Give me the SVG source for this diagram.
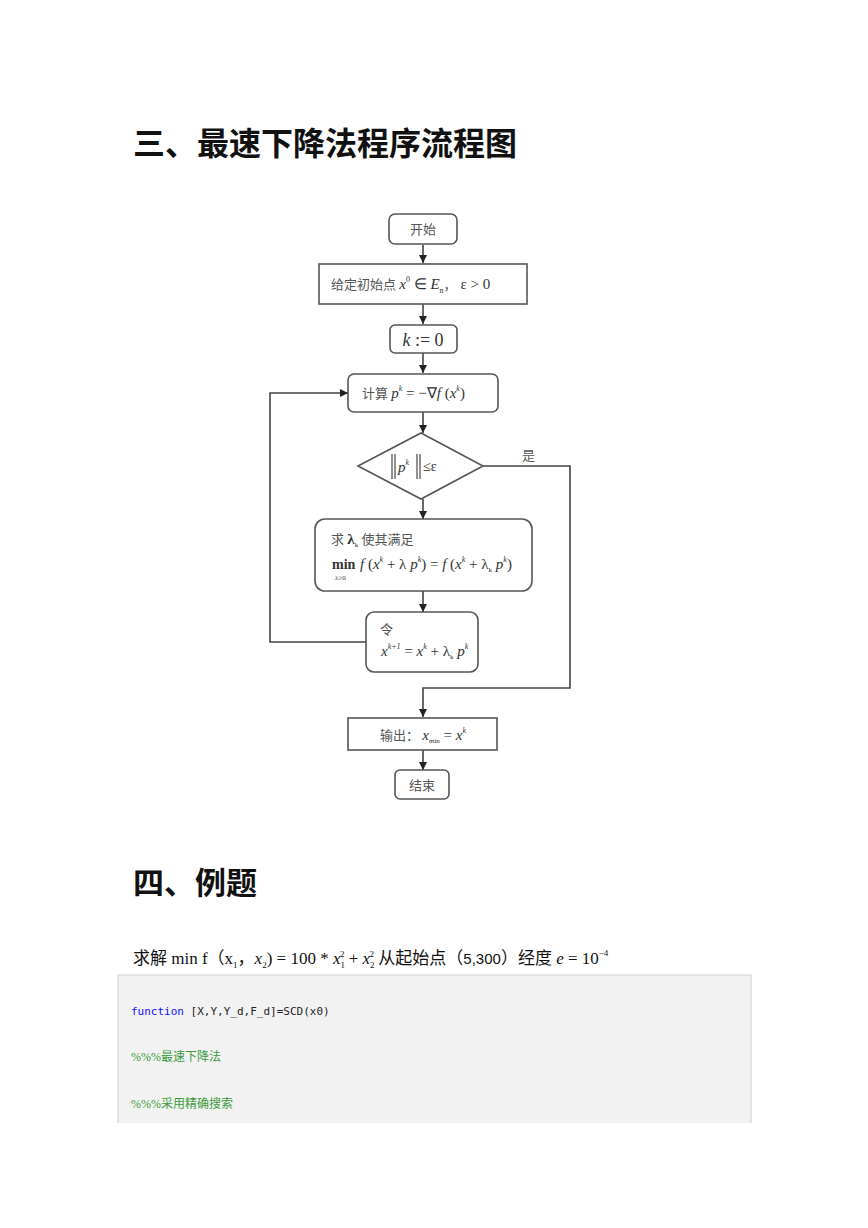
<svg xmlns="http://www.w3.org/2000/svg" width="868" height="1228" viewBox="0 0 868 1228">
<defs>
<style>
.h{font-family:"Liberation Sans","Noto Sans CJK SC",sans-serif;font-weight:bold;fill:#111}
.box{fill:#fff;stroke:#555;stroke-width:1.6}
.cn{font-family:"Liberation Serif","Noto Sans CJK SC",serif;font-size:13px;fill:#555}
.m{font-family:"Liberation Serif",serif;fill:#333}
.i{font-style:italic}
.ln{fill:none;stroke:#444;stroke-width:1.6}
.code{font-family:"DejaVu Sans Mono","Liberation Mono",monospace;font-size:11px;fill:#222}
.cm{font-family:"Liberation Serif","Noto Sans CJK SC",serif;font-size:12px;fill:#3a9a3a}
</style>
<marker id="ar" viewBox="0 0 10 10" refX="10" refY="5" markerWidth="8" markerHeight="8" markerUnits="userSpaceOnUse" orient="auto">
<path d="M0,0 L10,5 L0,10 z" fill="#222"/>
</marker>
</defs>
<rect width="868" height="1228" fill="#fff"/>
<text class="h" x="133" y="155" font-size="32">三、最速下降法程序流程图</text>

<g id="connectors">
<line class="ln" x1="423" y1="245" x2="423" y2="263" marker-end="url(#ar)"/>
<line class="ln" x1="423" y1="304" x2="423" y2="324" marker-end="url(#ar)"/>
<line class="ln" x1="423" y1="352" x2="423" y2="373" marker-end="url(#ar)"/>
<line class="ln" x1="423" y1="412" x2="423" y2="433" marker-end="url(#ar)"/>
<line class="ln" x1="423" y1="499" x2="423" y2="519" marker-end="url(#ar)"/>
<line class="ln" x1="423" y1="591" x2="423" y2="612" marker-end="url(#ar)"/>
<polyline class="ln" points="366,642 270,642 270,393 348,393" marker-end="url(#ar)"/>
<polyline class="ln" points="483,466 570,466 570,688 423,688 423,717" marker-end="url(#ar)"/>
<line class="ln" x1="423" y1="750" x2="423" y2="770" marker-end="url(#ar)"/>
<text class="cn" x="522" y="460">是</text>
</g>

<g id="start">
<rect class="box" x="389" y="214" width="68" height="30" rx="6"/>
<text class="cn" x="423" y="234" text-anchor="middle">开始</text>
</g>

<g id="init">
<rect class="box" x="319" y="264" width="208" height="40"/>
<text class="cn" x="331" y="289">给定初始点 <tspan class="m i" font-size="15">x</tspan><tspan class="m" font-size="8" dy="-7">0</tspan><tspan class="m" font-size="15" dy="7"> ∈ </tspan><tspan class="m i" font-size="15">E</tspan><tspan class="m" font-size="8" dy="4">n</tspan><tspan dy="-4">，</tspan><tspan class="m" font-size="15"> ε &gt; 0</tspan></text>
</g>

<g id="k0">
<rect class="box" x="390" y="325" width="67" height="28" rx="5"/>
<text class="m" x="423" y="346" font-size="18" text-anchor="middle"><tspan class="i">k</tspan> := 0</text>
</g>

<g id="grad">
<rect class="box" x="348" y="374" width="150" height="38" rx="6"/>
<text class="cn" x="362" y="398">计算 <tspan class="m i" font-size="15">p</tspan><tspan class="m i" font-size="8" dy="-7">k</tspan><tspan class="m" font-size="15" dy="7"> = −∇</tspan><tspan class="m i" font-size="15">f</tspan><tspan class="m" font-size="15"> (</tspan><tspan class="m i" font-size="15">x</tspan><tspan class="m i" font-size="8" dy="-7">k</tspan><tspan class="m" font-size="15" dy="7">)</tspan></text>
</g>

<g id="check">
<polygon class="box" points="421,433 483,466 421,499 358,466"/>
<line stroke="#555" stroke-width="1.3" x1="392" y1="454" x2="392" y2="479"/>
<line stroke="#555" stroke-width="1.3" x1="395" y1="454" x2="395" y2="479"/>
<line stroke="#555" stroke-width="1.3" x1="417" y1="454" x2="417" y2="479"/>
<line stroke="#555" stroke-width="1.3" x1="420" y1="454" x2="420" y2="479"/>
<text class="m i" x="398" y="472" font-size="15">p<tspan font-size="8" dy="-7">k</tspan></text>
<text class="m" x="423" y="471" font-size="14">≤ε</text>
</g>

<g id="linesearch">
<rect class="box" x="315" y="519" width="217" height="72" rx="10"/>
<text class="cn" x="331" y="544">求 <tspan class="m" font-weight="bold" font-size="15">λ</tspan><tspan class="m" font-size="7" dy="3">k</tspan><tspan dy="-3"> 使其满足</tspan></text>
<text class="m" x="332" y="569" font-size="14" font-weight="bold">min</text>
<text class="m" x="335" y="580" font-size="7">λ≥0</text>
<text class="m" x="360" y="569" font-size="15"><tspan class="i">f</tspan> (<tspan class="i">x</tspan><tspan class="i" font-size="8" dy="-7">k</tspan><tspan dy="7"> + λ </tspan><tspan class="i">p</tspan><tspan class="i" font-size="8" dy="-7">k</tspan><tspan dy="7">) = </tspan><tspan class="i">f</tspan> (<tspan class="i">x</tspan><tspan class="i" font-size="8" dy="-7">k</tspan><tspan dy="7"> + λ</tspan><tspan font-size="7" dy="3">k</tspan><tspan class="i" dy="-3"> p</tspan><tspan class="i" font-size="8" dy="-7">k</tspan><tspan dy="7">)</tspan></text>
</g>

<g id="update">
<rect class="box" x="366" y="612" width="112" height="60" rx="8"/>
<text class="cn" x="380" y="634">令</text>
<text class="m" x="381" y="656" font-size="15"><tspan class="i">x</tspan><tspan class="i" font-size="8" dy="-7">k+1</tspan><tspan dy="7"> = </tspan><tspan class="i">x</tspan><tspan class="i" font-size="8" dy="-7">k</tspan><tspan dy="7"> + λ</tspan><tspan font-size="7" dy="3">k</tspan><tspan class="i" dy="-3"> p</tspan><tspan class="i" font-size="8" dy="-7">k</tspan></text>
</g>

<g id="output">
<rect class="box" x="348" y="718" width="149" height="32"/>
<text class="cn" x="380" y="740">输出： <tspan class="m i" font-size="15">x</tspan><tspan class="m" font-size="7" dy="3">min</tspan><tspan class="m" font-size="15" dy="-3"> = </tspan><tspan class="m i" font-size="15">x</tspan><tspan class="m i" font-size="8" dy="-7">k</tspan></text>
</g>

<g id="end">
<rect class="box" x="395" y="770" width="54" height="29" rx="5"/>
<text class="cn" x="422" y="790" text-anchor="middle">结束</text>
</g>

<text class="h" x="133" y="894" font-size="31">四、例题</text>

<text x="133" y="964" font-family="Liberation Serif,Noto Sans CJK SC,serif" font-size="17" fill="#111">求解 min f（x<tspan font-size="9" dy="4">1</tspan><tspan dy="-4">，</tspan><tspan font-style="italic">x</tspan><tspan font-size="9" dy="4">2</tspan><tspan dy="-4">) = 100 * </tspan><tspan font-style="italic">x</tspan><tspan font-size="9" dy="4">1</tspan><tspan font-size="9" dx="-5" dy="-11">2</tspan><tspan dy="7"> + </tspan><tspan font-style="italic">x</tspan><tspan font-size="9" dy="4">2</tspan><tspan font-size="9" dx="-5" dy="-11">2</tspan><tspan dy="7"> 从起始点（</tspan><tspan font-family="Liberation Sans,sans-serif" font-size="15">5,300</tspan>）经度 <tspan font-style="italic">e</tspan> = 10<tspan font-size="9" dy="-8">−4</tspan></text>

<g id="code">
<rect x="118" y="975" width="633" height="148" fill="#f2f2f2"/>
<polyline points="118,1123 118,975 751,975 751,1123" fill="none" stroke="#cfcfcf" stroke-width="1"/>
<text class="code" x="131" y="1015"><tspan fill="#1010ff">function</tspan> [X,Y,Y_d,F_d]=SCD(x0)</text>
<text class="cm" x="131" y="1061">%%%最速下降法</text>
<text class="cm" x="131" y="1108">%%%采用精确搜索</text>
</g>
</svg>
